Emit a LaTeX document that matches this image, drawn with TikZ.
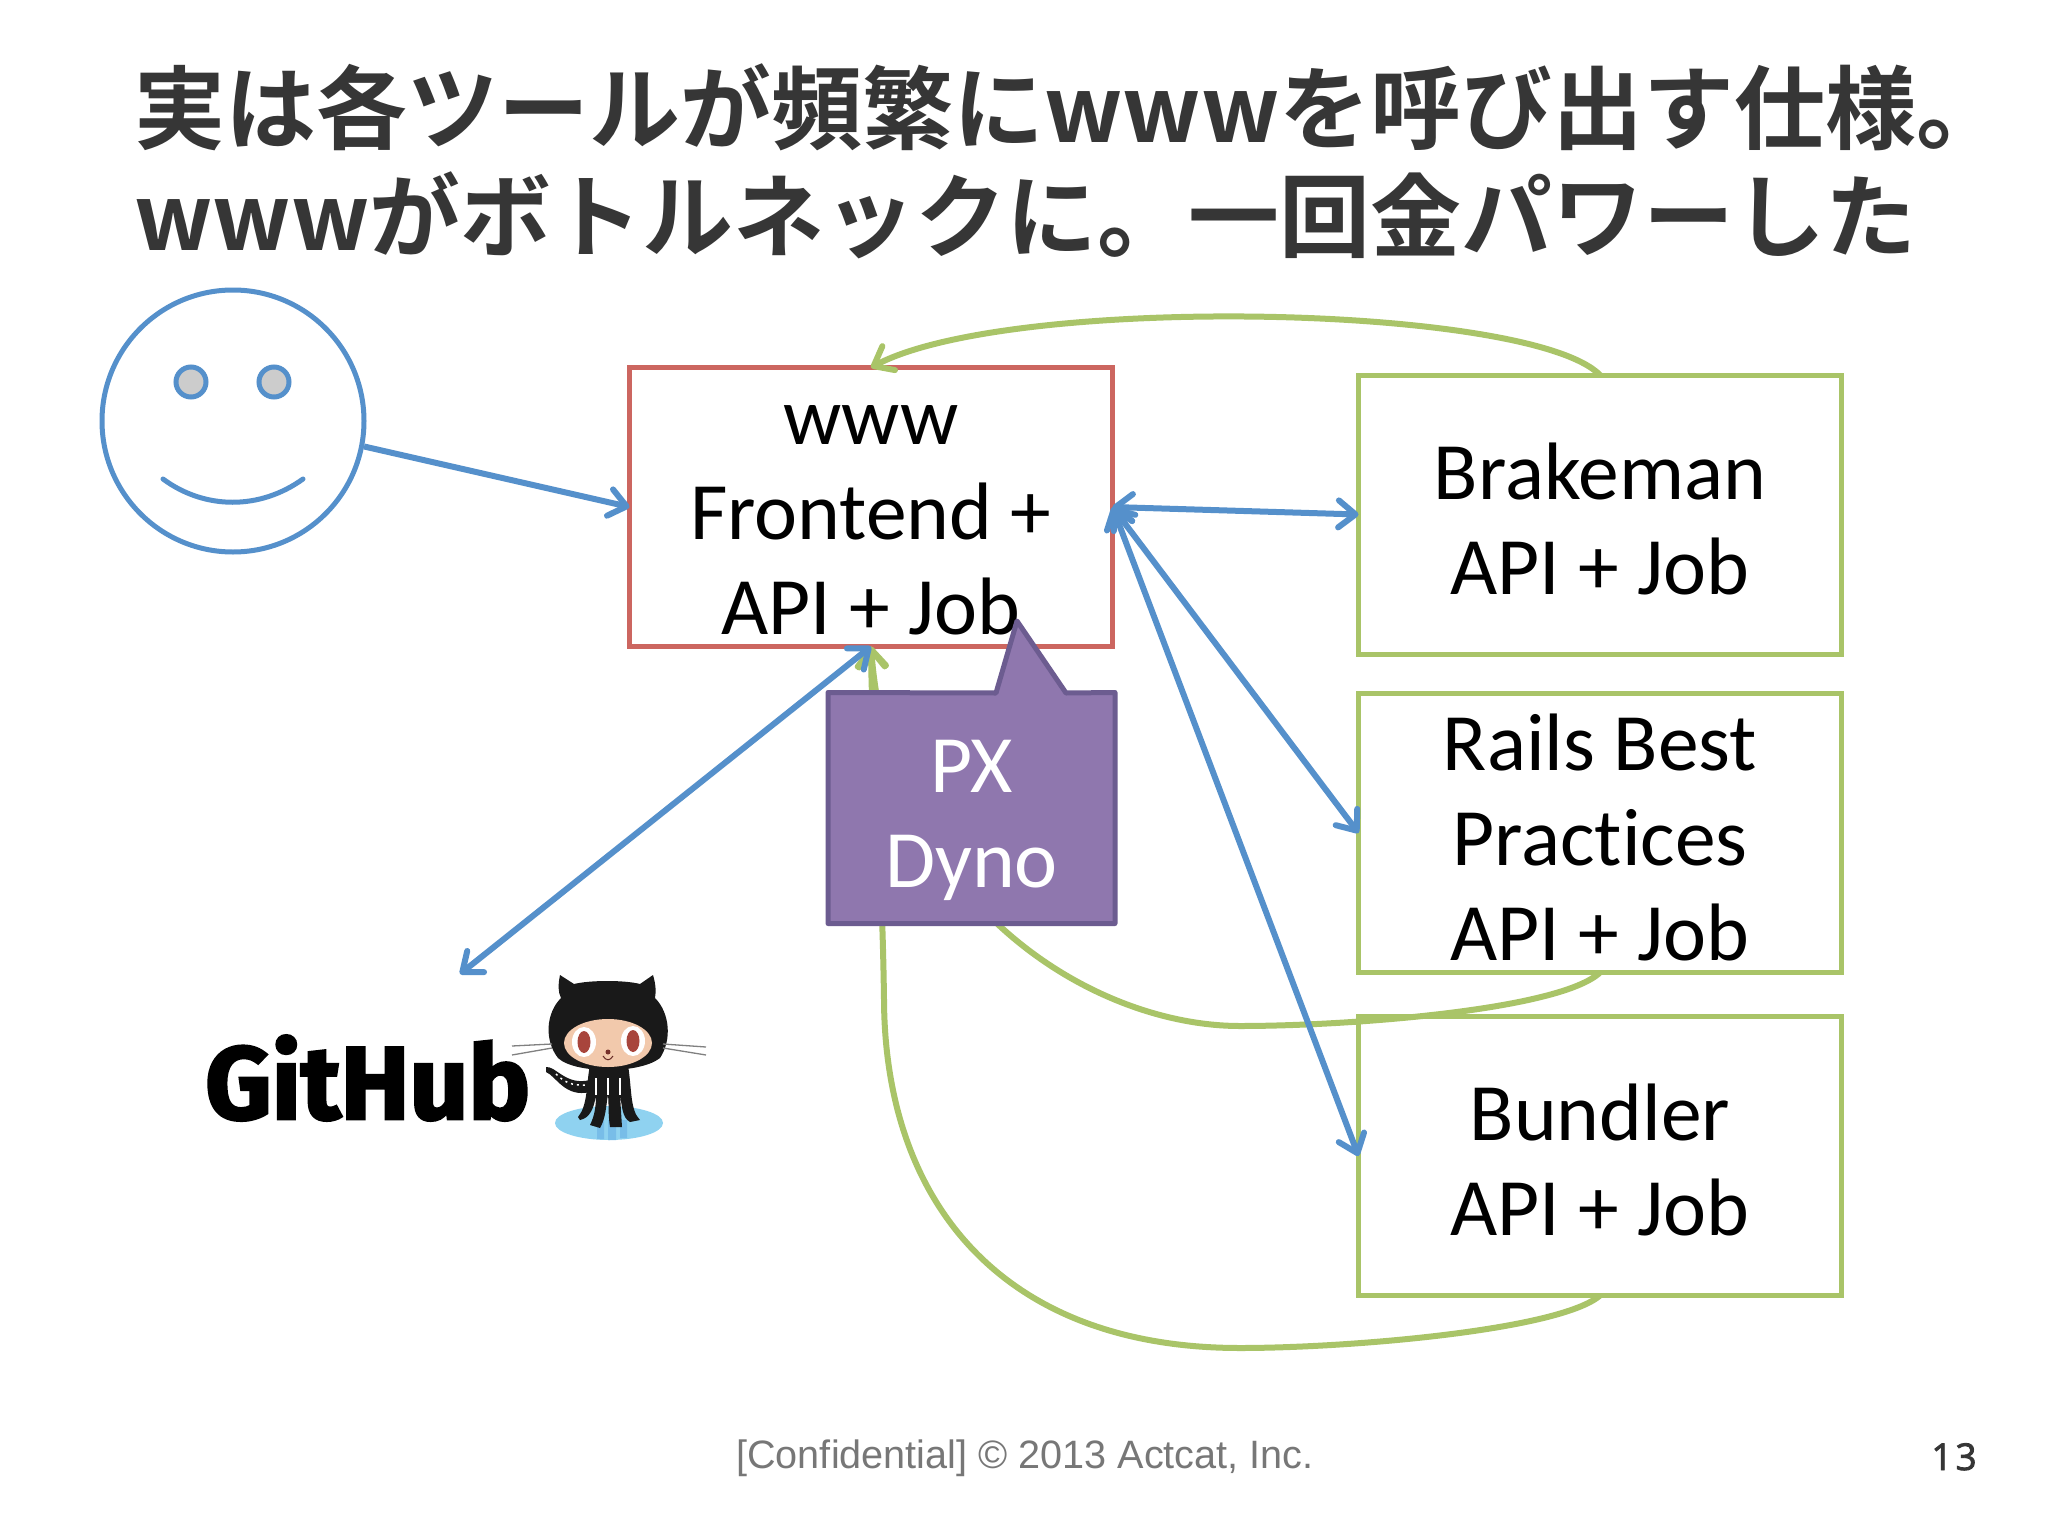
\documentclass[tikz,border=0pt]{standalone}
\usepackage{fontspec}
\usepackage{graphicx}
\usetikzlibrary{arrows.meta}
\setmainfont{Carlito}[Ligatures=NoCommon]
\newfontfamily\cjk[BoldFont={Noto Sans CJK JP Bold}]{Noto Sans CJK JP}
\newfontfamily\foot{Liberation Sans}
\newfontfamily\pagenum{Open Sans}[LetterSpace=8,FakeBold=2.2]
\newfontfamily\gh{Fira Sans}[FakeBold=2.5]
\definecolor{blueline}{HTML}{5590CB}
\definecolor{greenline}{HTML}{A9C468}
\definecolor{redline}{HTML}{CC6660}
\definecolor{purplefill}{HTML}{8F77AE}
\definecolor{purpleline}{HTML}{6C5C90}
\definecolor{titlegray}{HTML}{363636}
\definecolor{footgray}{HTML}{777777}
\definecolor{puddle}{HTML}{8FD2F0}
\definecolor{puddledark}{HTML}{78BDE8}
\definecolor{skin}{HTML}{F2C9AC}
\definecolor{iris}{HTML}{A8453C}
\newcommand{\firstline}{\rule{0pt}{64pt}}
\tikzset{
  barb/.tip={Straight Barb[round,length=17pt,width=27pt,line width=6pt]},
  box/.style={draw,line width=5pt,minimum width=483pt,minimum height=279pt,inner sep=0pt,outer sep=0pt,align=center,
    font=\fontsize{81.5}{95}\selectfont,line join=miter},
  greenbox/.style={box,draw=greenline},
  redbox/.style={box,draw=redline},
  pxbox/.style={rectangle,inner sep=0pt,outer sep=0pt,minimum width=287pt,minimum height=231pt},
  pxtext/.style={inner sep=0pt,align=center,text=white,font=\fontsize{81.5}{95}\selectfont},
  bluearrow/.style={draw=blueline,line width=6pt,barb-barb},
  blueone/.style={draw=blueline,line width=6pt,-barb},
  greenarrow/.style={draw=greenline,line width=6pt,-barb},
  faceline/.style={draw=blueline,line width=5pt},
}
\begin{document}
\begin{tikzpicture}[x=1pt,y=-1pt]
\useasboundingbox (0,0) rectangle (2048,1536);
\fill[white] (0,0) rectangle (2048,1536);

\node[anchor=north west,inner sep=0pt,align=left,text=titlegray,
  font=\cjk\bfseries\fontsize{91}{108}\selectfont] (title) at (134,63)
  {実は各ツールが頻繁にwwwを呼び出す仕様。\\wwwがボトルネックに。一回金パワーした};

% face
\node[circle,faceline,minimum size=262pt,inner sep=0pt] (face) at (233,421) {};
\node[circle,faceline,fill=gray!40!white,minimum size=30pt,inner sep=0pt] (eyel) at (191,382) {};
\node[circle,faceline,fill=gray!40!white,minimum size=30pt,inner sep=0pt] (eyer) at (274,382) {};
\draw[faceline,line cap=round] (163,479) .. controls (205,510) and (260,510) .. (303,479);

% boxes
\node[redbox] (www) at (871,507) {\firstline www\\Frontend +\\\smash{API + Job}};
\node[greenbox] (brake) at (1600,514.5) {\firstline Brakeman\\\smash{API + Job}};
\node[greenbox] (rails) at (1600,833) {\firstline Rails Best\\Practices\\\smash{API + Job}};
\node[greenbox] (bundler) at (1600,1156) {\firstline Bundler\\\smash{API + Job}};
\coordinate (ghend) at (460,974);

% green connectors (partly hidden by the callout)
\draw[greenarrow] (brake.north) .. controls (1530,304) and (1010,294) .. (www.north);
\draw[greenarrow] (rails.south) .. controls (1560,1010) and (1350,1026) .. (1240,1026)
   .. controls (1090,1026) and (890,900) .. (www.south);
\draw[greenarrow] (bundler.south) .. controls (1560,1330) and (1350,1348) .. (1240,1348)
   .. controls (1000,1348) and (885,1200) .. (884,1000) .. controls (882,850) and (872,750) .. (www.south);

% blue connectors
\draw[blueone] (face.-11) -- (www.west);
\draw[bluearrow] (www.east) -- (brake.west);
\draw[bluearrow] (www.east) -- (rails.west);
\draw[bluearrow] (www.east) -- (bundler.west);
\draw[bluearrow] (ghend) -- (www.south);

% callout
\node[pxbox] (px) at (971.5,808) {};
\draw[line width=5pt,draw=purpleline,fill=purplefill,line join=round]
  (px.north west) -- (996,693) -- (1017,621) -- (1066,693) -- (px.north east)
  -- (px.south east) -- (px.south west) -- cycle;
\node[pxtext] (pxlabel) at (px.center) {\firstline PX\\\smash{Dyno}};

% github logo
\node[anchor=base west,inner sep=0pt] (ghlogo) at (205,1119)
  {\resizebox{325pt}{!}{\gh\bfseries\fontsize{120}{120}\selectfont GitHub}};
\fill[puddle] (609,1123) ellipse [x radius=54,y radius=17];
\fill[puddledark] (597,1120) rectangle (604,1139) (608,1120) rectangle (616,1140) (620,1120) rectangle (627,1138);
\fill[black!90] (546,1067) .. controls (556,1066) and (566,1086) .. (590,1080) -- (590,1092)
  .. controls (565,1098) and (556,1076) .. (546,1072) -- cycle;
\draw[white,line width=1.5pt,dash pattern=on 2pt off 4pt] (556,1074) .. controls (564,1082) and (572,1086) .. (586,1085);
\fill[black!90] (590,1065) -- (628,1065) .. controls (632,1090) and (630,1110) .. (640,1120)
  -- (630,1122) .. controls (622,1118) and (622,1105) .. (620,1095) -- (622,1127) -- (610,1127)
  .. controls (608,1115) and (609,1105) .. (608,1095) .. controls (606,1105) and (606,1118) .. (600,1128)
  -- (590,1125) .. controls (595,1115) and (596,1105) .. (596,1095) .. controls (594,1108) and (590,1118) .. (580,1120)
  -- (578,1117) .. controls (588,1105) and (586,1085) .. (590,1065) -- cycle;
\draw[white,line width=1.2pt] (596,1078) -- (596,1095) (608,1078) -- (608,1095) (620,1078) -- (620,1095);
\fill[black!90] (560,975) -- (574,984) .. controls (590,980) and (625,980) .. (640,984) -- (653,975)
  .. controls (656,985) and (656,992) .. (655,998) .. controls (670,1013) and (672,1040) .. (660,1058)
  .. controls (640,1074) and (575,1074) .. (558,1058) .. controls (544,1040) and (546,1013) .. (561,998)
  .. controls (558,992) and (558,985) .. (560,975) -- cycle;
\fill[skin] (608,1043) ellipse [x radius=44,y radius=24];
\fill[white] (584,1042) ellipse [x radius=12,y radius=15];
\fill[white] (633,1041) ellipse [x radius=12,y radius=15];
\fill[iris] (584,1042) ellipse [x radius=6.5,y radius=11];
\fill[iris] (633,1041) ellipse [x radius=6.5,y radius=11];
\fill[iris!70!black] (608,1052) circle (2.5);
\draw[iris!60!black,line width=1pt] (603,1056) .. controls (606,1061) and (610,1061) .. (613,1056);
\draw[gray,line width=1.3pt] (512,1046) -- (552,1044) (512,1055) -- (552,1048) (663,1044) -- (706,1047) (663,1048) -- (706,1055);

% footer
\node[anchor=base,inner sep=0pt,text=footgray,font=\foot\fontsize{39.6}{40}\selectfont] (footer) at (1025,1468)
  {[Confidential] © 2013 Actcat, Inc.};
\node[anchor=base,inner sep=0pt,text=titlegray,font=\pagenum\fontsize{37}{37}\selectfont] (page) at (1954,1470) {13};
\end{tikzpicture}
\end{document}
